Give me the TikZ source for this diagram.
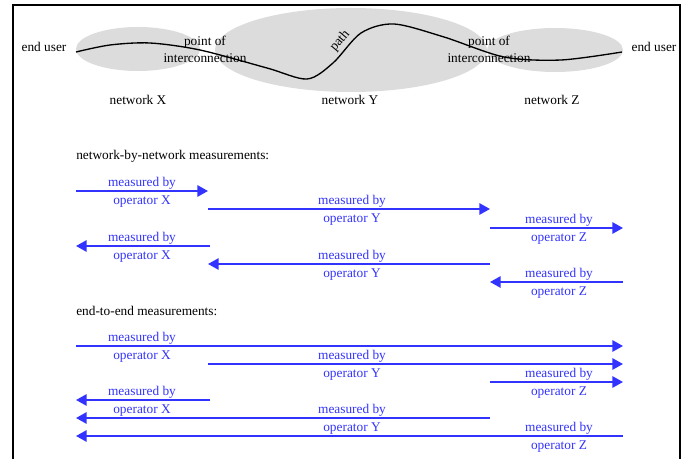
\documentclass[tikz,border=0pt]{standalone}
\usepackage{fontspec}
\setmainfont{Liberation Serif}
\usepackage{xcolor}
\usepackage{tikz}
\usetikzlibrary{arrows.meta}
\definecolor{MeasBlue}{HTML}{3333FF}
\definecolor{NetGray}{HTML}{DCDCDC}

\tikzset{
	meas/.style={line width=1.5pt, color=MeasBlue, -{Triangle[length=8pt,width=8.5pt]}},
	meastext/.style={text=MeasBlue, inner sep=0pt},
}

\begin{document}
\begin{tikzpicture}[x=0.75pt, y=-0.75pt, font=\fontsize{10}{12}\selectfont, inner sep=0pt]
				\useasboundingbox (0,0) rectangle (688,459);
				\draw[line width=1.6pt] (13,459) -- (13,5) -- (680,5) -- (680,459);

				% networks
				\fill[NetGray] (138,49) ellipse [x radius=62, y radius=22];
				\fill[NetGray] (555,50) ellipse [x radius=68, y radius=22];
				\fill[NetGray] (351,50) ellipse [x radius=136, y radius=42];
				\coordinate (userLpt) at (76,52);
				\coordinate (userRpt) at (622,52);
				\draw[line width=1pt] plot[smooth] coordinates {(userLpt) (110,45) (150,43) (200,50) (267,68) (307,79) (333,63) (361,33) (394,24) (444,37) (504,57) (561,60) (userRpt)};
				\node[rotate=50] (pathlbl) at (340,41) {path};

				\node (userL) at (44,47) {end user};
				\node (userR) at (654,47) {end user};
				\foreach \xp/\name in {205/poiL, 489/poiR} {
					\node (\name a) at (\xp,42) {point of};
					\node (\name b) at (\xp,58) {interconnection};
				}
				\foreach \xn/\net in {138/X, 350/Y, 552/Z} {
					\node (net\net) at (\xn,100) {network \net};
				}

				% network-by-network
				\node[anchor=west] (nbn) at (76,156) {network-by-network measurements:};
				\foreach \ya/\xa/\xb/\xt/\op [count=\i] in {
					191/76/208/142/X, 209/208/490/352/Y, 228/490/623/559/Z,
					246/210/76/142/X, 264/490/208/352/Y, 282/623/490/559/Z} {
					\coordinate (ns\i) at (\xa,\ya);
					\coordinate (ne\i) at (\xb,\ya);
					\draw[meas] (ns\i) -- (ne\i);
					\node[meastext] (nm\i) at (\xt,\ya-8) {measured by};
					\node[meastext] (no\i) at (\xt,\ya+10.5) {operator \op};
				}

				% end-to-end
				\node[anchor=west] (ete) at (76,311) {end-to-end measurements:};
				\foreach \ya/\xa/\xb/\xt/\op [count=\i] in {
					346/76/623/142/X, 364/208/623/352/Y, 382/490/623/559/Z,
					400/210/76/142/X, 418/490/76/352/Y, 436/623/76/559/Z} {
					\coordinate (es\i) at (\xa,\ya);
					\coordinate (ee\i) at (\xb,\ya);
					\draw[meas] (es\i) -- (ee\i);
					\node[meastext] (em\i) at (\xt,\ya-8) {measured by};
					\node[meastext] (eo\i) at (\xt,\ya+10.5) {operator \op};
				}
\end{tikzpicture}
\end{document}
